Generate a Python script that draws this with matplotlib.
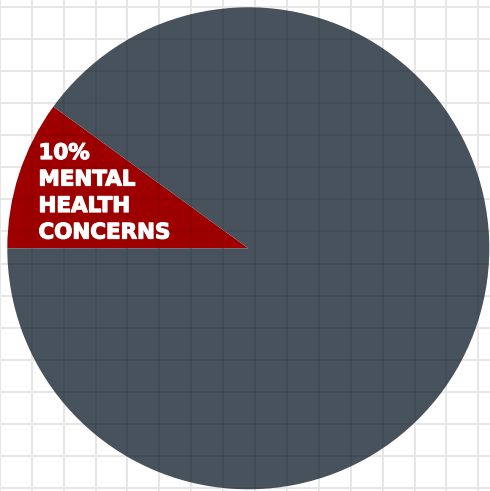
import numpy as np
import matplotlib
matplotlib.use("Agg")
import matplotlib.pyplot as plt
import matplotlib.patheffects as pe

# === Data ===
labels = ["MENTAL HEALTH CONCERNS", "OTHER"]
values = [10, 90]
colors = ["#9e0000", "#47525c"]
label_lines = ["10%", "MENTAL", "HEALTH", "CONCERNS"]

W, H = 490, 491
fig = plt.figure(figsize=(W / 100, H / 100), dpi=100)
ax = fig.add_axes([0, 0, 1, 1])

# graph paper background
xs = np.arange(-0.2, W + 1, 31.9)
ys = H - np.arange(6.7, H + 1, 32.1)
for x in xs:
    ax.axvline(x, color="#e6e6e6", lw=1.4, zorder=0)
for y in ys:
    ax.axhline(y, color="#e6e6e6", lw=1.4, zorder=0)

# the pie
center = (248.3, H - 248.3)
wedges, _ = ax.pie(values, colors=colors, startangle=144, counterclock=True,
                   radius=241, center=center, frame=True,
                   wedgeprops=dict(linewidth=0))
ax.set_xlim(0, W)
ax.set_ylim(0, H)
ax.set_aspect("equal")
ax.axis("off")

# faint grid showing through the pie
for w in wedges:
    for x in xs:
        ln = ax.axvline(x, color="black", alpha=0.07, lw=1.4, zorder=3)
        ln.set_clip_path(w)
    for y in ys:
        ln = ax.axhline(y, color="black", alpha=0.07, lw=1.4, zorder=3)
        ln.set_clip_path(w)

# slice label
base = H - 159
for i, line in enumerate(label_lines):
    ax.text(38.5, base - i * 26.5, line, color="white", fontsize=15.4,
            fontweight="bold", family="DejaVu Sans", ha="left",
            va="baseline", zorder=5,
            path_effects=[pe.withStroke(linewidth=0.9, foreground="white")])

fig.savefig("out.png", dpi=100)
